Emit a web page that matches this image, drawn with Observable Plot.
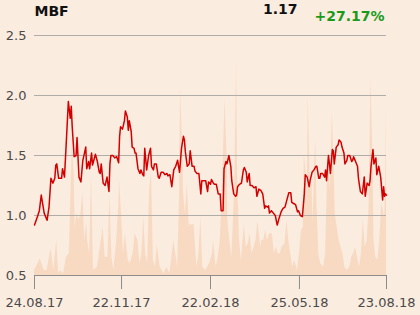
<!DOCTYPE html>
<html><head><meta charset="utf-8">
<script src="https://cdn.jsdelivr.net/npm/d3@7"></script>
<script src="https://cdn.jsdelivr.net/npm/@observablehq/plot@0.6"></script>
<style>
html,body{margin:0;padding:0;background:#fbece0;}
#chart{width:420px;height:315px;}
</style>
</head><body><div id="chart"></div>
<script>
const ticker = "MBF";
const lastPrice = "1.17";
const changePct = "+27.17%";
const startDate = "2017-08-24";
const endDate = "2018-08-23";
const yTicks = [0.5, 1.0, 1.5, 2.0, 2.5];
const gridValues = [1.0, 1.5, 2.0, 2.5];
const xTickLabels = ["24.08.17", "22.11.17", "22.02.18", "25.05.18", "23.08.18"];

// [day offset from startDate, closing price]
const priceSeries = [
[0,0.92],[3,0.99],[5,1.04],[7,1.17],[10,1.02],[13,0.96],[15,1.07],[17,1.31],[19,1.27],[21,1.31],
[22,1.42],[23,1.43],[25,1.31],[28,1.31],[29,1.39],[31,1.32],[33,1.63],[35,1.95],[37,1.81],[38,1.91],
[39,1.74],[41,1.49],[43,1.50],[44,1.65],[46,1.32],[48,1.28],[50,1.46],[53,1.57],[54,1.39],[56,1.45],
[57,1.39],[59,1.52],[60,1.42],[61,1.45],[63,1.51],[65,1.45],[67,1.36],[68,1.35],[69,1.43],[71,1.27],
[73,1.25],[75,1.32],[77,1.20],[78,1.43],[79,1.50],[81,1.50],[83,1.48],[85,1.49],[87,1.44],[88,1.66],
[89,1.74],[91,1.72],[93,1.79],[94,1.87],[96,1.82],[97,1.71],[98,1.79],[100,1.70],[101,1.57],[103,1.56],
[104,1.52],[105,1.52],[107,1.39],[109,1.35],[110,1.38],[112,1.34],[113,1.33],[114,1.56],[116,1.38],[118,1.50],
[120,1.56],[121,1.41],[123,1.38],[124,1.43],[126,1.43],[128,1.32],[129,1.31],[131,1.36],[133,1.36],[135,1.34],
[137,1.35],[138,1.33],[140,1.34],[142,1.24],[144,1.38],[146,1.41],[148,1.46],[150,1.36],[152,1.56],[154,1.66],
[155,1.63],[156,1.53],[158,1.41],[160,1.43],[161,1.54],[163,1.41],[165,1.41],[166,1.37],[168,1.35],[170,1.35],
[172,1.18],[173,1.29],[175,1.29],[177,1.29],[179,1.20],[180,1.28],[182,1.26],[183,1.30],[185,1.27],[186,1.26],
[188,1.26],[190,1.18],[192,1.18],[193,1.04],[195,1.04],[196,1.39],[198,1.45],[199,1.43],[201,1.50],[203,1.41],
[204,1.29],[206,1.18],[208,1.16],[209,1.17],[210,1.24],[212,1.26],[214,1.27],[216,1.38],[217,1.40],[219,1.36],
[220,1.28],[222,1.35],[223,1.25],[225,1.25],[227,1.23],[229,1.24],[230,1.16],[232,1.22],[234,1.21],[236,1.18],
[238,1.06],[239,1.08],[241,1.07],[242,1.08],[243,1.02],[245,1.04],[247,1.02],[249,1.00],[251,0.92],[253,0.98],
[255,1.03],[257,1.06],[259,1.07],[261,1.13],[263,1.19],[265,1.19],[266,1.11],[268,1.10],[270,1.09],[272,1.03],
[273,1.04],[275,1.00],[277,0.99],[279,1.18],[280,1.34],[282,1.32],[284,1.24],[285,1.29],[287,1.36],[289,1.38],
[291,1.41],[292,1.41],[294,1.31],[295,1.31],[296,1.35],[298,1.35],[300,1.32],[301,1.38],[302,1.29],[304,1.50],
[305,1.43],[306,1.35],[308,1.55],[309,1.54],[310,1.43],[312,1.57],[314,1.59],[315,1.63],[317,1.61],[318,1.57],
[320,1.52],[321,1.43],[323,1.46],[324,1.50],[326,1.50],[328,1.45],[329,1.46],[330,1.49],[332,1.45],[334,1.41],
[335,1.31],[337,1.20],[339,1.18],[341,1.32],[342,1.16],[344,1.27],[346,1.25],[347,1.29],[348,1.41],[350,1.55],
[351,1.43],[353,1.48],[354,1.34],[356,1.41],[358,1.32],[360,1.13],[361,1.24],[362,1.16],[363,1.18],[364,1.17]
];

// [day offset from startDate, traded volume (thousand shares)]
const volumeSeries = [
[0,15],[6,50],[10,15],[13,15],[17,80],[20,15],[23,107],[25,5],[27,15],[30,5],[33,55],[36,65],[38,275],[39,390],
[41,305],[42,145],[44,185],[46,165],[48,185],[50,250],[52,105],[54,160],[55,105],[57,65],[59,305],[61,15],[65,25],
[68,85],[71,145],[73,55],[76,55],[78,245],[80,55],[82,15],[85,105],[87,205],[88,285],[90,185],[92,65],[94,125],
[97,45],[99,35],[102,65],[104,125],[107,105],[109,35],[111,65],[113,175],[115,65],[117,35],[119,255],[121,310],
[123,45],[125,25],[127,93],[130,25],[132,15],[134,5],[137,25],[140,5],[142,55],[144,105],[146,65],[148,25],
[150,235],[151,560],[153,405],[154,255],[156,185],[158,275],[160,145],[161,155],[163,150],[165,155],[167,65],
[168,25],[170,65],[172,175],[174,25],[177,15],[179,25],[181,35],[184,65],[185,105],[188,25],[190,55],[192,105],
[194,225],[197,530],[199,365],[200,165],[202,105],[204,55],[207,255],[209,650],[210,305],[212,105],[214,45],
[217,155],[219,85],[221,95],[223,125],[225,65],[227,85],[229,105],[231,165],[234,85],[235,105],[237,105],[239,135],
[241,105],[243,125],[246,125],[248,65],[250,85],[252,65],[254,65],[256,85],[259,95],[261,165],[263,105],[265,65],
[267,25],[269,45],[272,15],[274,65],[276,135],[278,145],[279,360],[281,305],[282,205],[283,540],[285,305],[287,275],
[288,155],[290,355],[291,405],[292,225],[294,65],[296,35],[299,25],[301,65],[303,305],[304,375],[306,255],[308,495],
[310,305],[311,185],[313,145],[315,105],[317,85],[319,65],[321,25],[323,15],[326,25],[328,55],[330,65],[332,85],
[334,55],[336,25],[338,65],[340,165],[342,85],[344,105],[346,205],[348,595],[350,355],[351,105],[353,55],[355,45],
[357,105],[359,215],[360,205],[362,175],[363,255],[364,510]
];

const parseISO = d3.timeParse("%Y-%m-%d");
const parseTick = d3.timeParse("%d.%m.%y");
const start = parseISO(startDate);
const end = parseISO(endDate);
const volumeBase = 0.5;          // volume drawn up from the bottom of the price axis
const volumeUnitsPerPrice = 360; // volume scaled into the price axis
const prices = priceSeries.map(([d, p]) => ({date: d3.timeDay.offset(start, d), price: p}));
const volumes = volumeSeries.map(([d, v]) => ({date: d3.timeDay.offset(start, d), vy: volumeBase + v / volumeUnitsPerPrice}));
const xTicks = xTickLabels.map(parseTick);
const fmt = d3.timeFormat("%d.%m.%y");

const chart = Plot.plot({
  width: 420,
  height: 315,
  marginTop: 35,
  marginBottom: 40,
  marginLeft: 34,
  marginRight: 34,
  style: {background: "transparent", fontFamily: "DejaVu Sans", fontSize: "13px", color: "#4a4a4a"},
  x: {type: "time", domain: [start, end]},
  y: {domain: [0.5, 2.5]},
  marks: [
    Plot.areaY(volumes, {x: "date", y1: volumeBase, y2: "vy", fill: "#f8dac3", curve: "linear"}),
    Plot.ruleY(gridValues, {stroke: "#b0aca8", strokeWidth: 1}),
    Plot.ruleY([0.5], {stroke: "#8c8c8c", strokeWidth: 1}),
    Plot.axisY({ticks: yTicks, tickSize: 0, tickPadding: 8, tickFormat: d3.format(".1f"), fontSize: 13, fill: "#4a4a4a", label: null}),
    Plot.axisX({ticks: xTicks, tickSize: 14, tickPadding: 8, tickFormat: fmt, fontSize: 13, stroke: "#8c8c8c", fill: "#4a4a4a", label: null}),
    Plot.lineY(prices, {x: "date", y: "price", stroke: "#d20000", strokeWidth: 1.5}),
    Plot.text([ticker], {frameAnchor: "top-left", lineAnchor: "middle", dy: -24, textAnchor: "start", fontWeight: "bold", fontSize: 14, fill: "#111"}),
    Plot.text([lastPrice], {frameAnchor: "top-left", lineAnchor: "middle", dx: 263, dy: -26, textAnchor: "end", fontWeight: "bold", fontSize: 14, fill: "#111"}),
    Plot.text([changePct], {frameAnchor: "top-right", lineAnchor: "middle", dx: -2, dy: -19, textAnchor: "end", fontWeight: "bold", fontSize: 14, fill: "#1a9a1a"})
  ]
});
document.getElementById("chart").appendChild(chart);
</script>
</body></html>
